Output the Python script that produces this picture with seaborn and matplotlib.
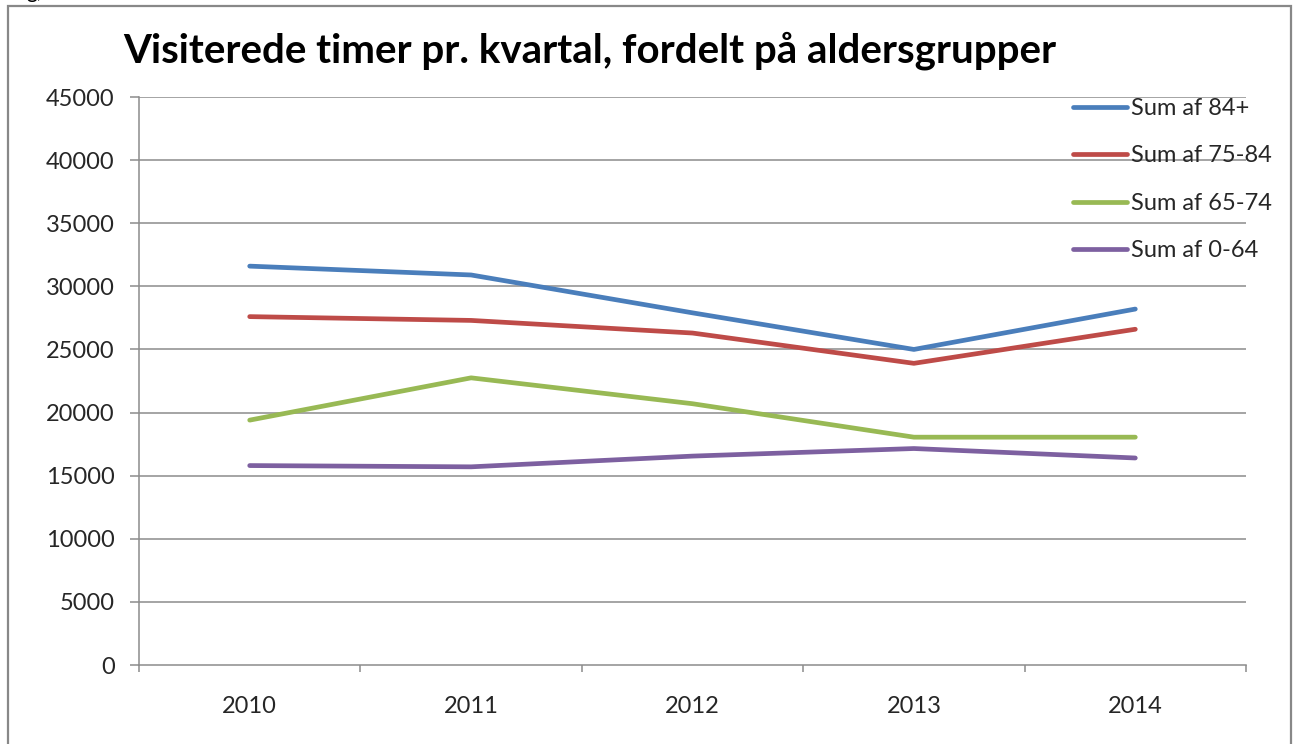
import matplotlib
matplotlib.use("Agg")
import matplotlib.pyplot as plt
import seaborn as sns
import pandas as pd
import numpy as np

years = ["2010", "2011", "2012", "2013", "2014"]
series_names = ["Sum af 84+", "Sum af 75-84", "Sum af 65-74", "Sum af 0-64"]
v_84 = [31600, 30900, 27900, 25000, 28200]
v_75_84 = [27600, 27300, 26300, 23900, 26600]
v_65_74 = [19400, 22750, 20700, 18050, 18050]
v_0_64 = [15800, 15700, 16550, 17150, 16400]
colors = ["#4A7EBB", "#BE4B48", "#98B954", "#7D60A0"]
yticks = [0, 5000, 10000, 15000, 20000, 25000, 30000, 35000, 40000, 45000]
title = "Visiterede timer pr. kvartal, fordelt på aldersgrupper"

rows = []
for name, vals in zip(series_names, [v_84, v_75_84, v_65_74, v_0_64]):
    for i, (yr, v) in enumerate(zip(years, vals)):
        rows.append({"pos": i, "year": yr, "value": v, "series": name})
df = pd.DataFrame(rows)

sns.set_theme(style="white")
plt.rcParams["font.family"] = ["Lato", "DejaVu Sans"]

W, H = 1302, 744
fig = plt.figure(figsize=(W / 100, H / 100), dpi=100)
fig.patch.set_facecolor("white")
ax = fig.add_axes([139 / W, 1 - 665 / H, (1246 - 139) / W, (665 - 97) / H])

sns.lineplot(data=df, x="pos", y="value", hue="series", hue_order=series_names,
             palette=colors, linewidth=3.4, ax=ax, legend=True, sort=False)

grid_c = "#8C8C8C"
txt_c = "#262626"
fs = 17
ax.set_xlim(-0.5, len(years) - 0.5)
ax.set_ylim(yticks[0], yticks[-1])
ax.set_yticks(yticks)
ax.set_yticklabels([str(t) for t in yticks])
for t in yticks[1:]:
    ax.axhline(t, color=grid_c, lw=1.1, zorder=0)

ax.set_xticks(np.arange(len(years) + 1) - 0.5)
ax.set_xticklabels([])
ax.set_xticks(np.arange(len(years)), minor=True)
ax.set_xticklabels(years, minor=True)
ax.tick_params(axis="x", which="major", length=5, width=1.1, color=grid_c, direction="out")
ax.tick_params(axis="x", which="minor", length=0, pad=22, labelsize=fs, labelcolor=txt_c)
ax.tick_params(axis="y", length=6.5, width=1.1, color=grid_c, direction="out",
               pad=11, labelsize=fs, labelcolor=txt_c)
ax.tick_params(bottom=True, left=True)
for s in ["top", "right"]:
    ax.spines[s].set_visible(False)
for s in ["left", "bottom"]:
    ax.spines[s].set_color(grid_c)
    ax.spines[s].set_linewidth(1.1)
ax.set_xlabel("")
ax.set_ylabel("")

leg = ax.legend(loc="upper left", bbox_to_anchor=(1073 / W, 1 - 98 / H),
                bbox_transform=fig.transFigure, frameon=False, fontsize=fs,
                handlelength=2.3, handletextpad=0.15, labelspacing=1.12,
                borderpad=0, borderaxespad=0)
for line in leg.get_lines():
    line.set_linewidth(3.4)
for txt in leg.get_texts():
    txt.set_color(txt_c)

fig.text(590 / W, 1 - 51 / H, title, ha="center", va="center",
         fontsize=29, fontweight="bold", color="black")

# outer chart border
border = plt.Rectangle((8 / W, -0.01), (1291 - 8) / W, 1 - 6 / H + 0.01,
                       transform=fig.transFigure, fill=False, edgecolor="#888888",
                       linewidth=1.6)
fig.patches.append(border)

# clipped caption fragment above the chart border
fig.text(26 / W, 1 + 2 / H, "g,", ha="left", va="baseline", fontsize=15, color="black")

fig.savefig("out.png", dpi=100, facecolor="white")
